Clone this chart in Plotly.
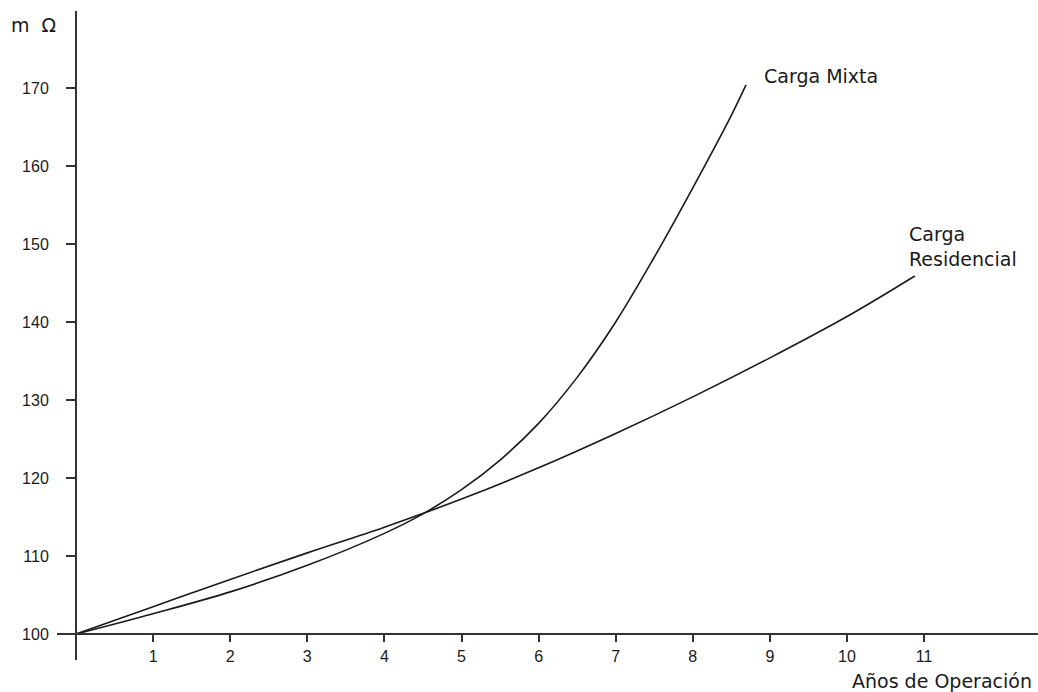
import plotly.graph_objects as go

# Años de operación y resistencia (mΩ) para cada tipo de carga
anios_mixta = [0, 1, 2, 3, 4, 4.5, 5, 5.5, 6, 6.5, 7, 7.5, 8, 8.5, 8.69]
res_mixta = [100, 102.6, 105.4, 108.8, 112.9, 115.4, 118.5, 122.3, 127.0,
             132.9, 140.0, 148.3, 157.2, 166.5, 170.4]

anios_resid = [0, 1, 2, 3, 4, 5, 6, 7, 8, 9, 10, 10.88]
res_resid = [100, 103.5, 107.0, 110.4, 113.7, 117.3, 121.3, 125.7, 130.4,
             135.4, 140.7, 145.9]

x_ticks = [1, 2, 3, 4, 5, 6, 7, 8, 9, 10, 11]
y_ticks = [100, 110, 120, 130, 140, 150, 160, 170]

W, H = 1038, 692
FONT = "DejaVu Sans"
TICK_FONT = "Liberation Sans"
INK = "#1a1a1a"

fig = go.Figure()
for xs, ys in [(anios_mixta, res_mixta), (anios_resid, res_resid)]:
    fig.add_trace(go.Scatter(
        x=xs, y=ys, mode="lines",
        line=dict(color=INK, width=1.6, shape="spline", smoothing=1.0),
        hoverinfo="skip", showlegend=False,
    ))

# pixel helpers for the layout (axes cross at year 0 / 100 mΩ)
def px(v):
    return v / W

def py(v):
    return 1 - v / H

x0_px, x_unit = 76, 77.1
y0_px, y_unit = 634, 7.8

tick_font = dict(size=16, family=TICK_FONT, color=INK)

fig.update_layout(
    width=W, height=H,
    margin=dict(l=0, r=0, t=0, b=0),
    paper_bgcolor="white", plot_bgcolor="white",
    font=dict(family=FONT, color=INK),
    xaxis=dict(
        domain=[px(57), 1.0],
        range=[(57 - x0_px) / x_unit, (W - x0_px) / x_unit],
        anchor="free", position=py(y0_px),
        showline=True, linecolor="#333", linewidth=2,
        showgrid=False, zeroline=False,
        tickvals=x_ticks, ticks="outside", ticklen=7, tickwidth=1.5,
        tickcolor="#333", tickfont=tick_font,
        ticklabelstandoff=1,
    ),
    yaxis=dict(
        domain=[py(660), py(11)],
        range=[100 - (660 - y0_px) / y_unit, 100 + (y0_px - 11) / y_unit],
        anchor="free", position=px(x0_px),
        showline=True, linecolor="#333", linewidth=2,
        showgrid=False, zeroline=False,
        tickvals=y_ticks, ticks="outside", ticklen=9, tickwidth=1.5,
        tickcolor="#333", tickfont=tick_font,
        ticklabelstandoff=14,
    ),
    annotations=[
        dict(text="m\u00a0\u00a0Ω", x=px(9), y=py(25), xref="paper", yref="paper",
             xanchor="left", yanchor="middle", showarrow=False,
             font=dict(size=19, family=FONT, color=INK)),
        dict(text="Carga Mixta", x=px(762), y=py(76), xref="paper", yref="paper",
             xanchor="left", yanchor="middle", showarrow=False,
             font=dict(size=19, family=FONT, color=INK)),
        dict(text="Carga<br>Residencial", x=px(907), y=py(246),
             xref="paper", yref="paper", align="left",
             xanchor="left", yanchor="middle", showarrow=False,
             font=dict(size=19, family=FONT, color=INK)),
        dict(text="Años de Operación", x=px(1034), y=py(681),
             xref="paper", yref="paper",
             xanchor="right", yanchor="middle", showarrow=False,
             font=dict(size=19, family=FONT, color=INK)),
    ],
)

fig.write_html("out.html")
